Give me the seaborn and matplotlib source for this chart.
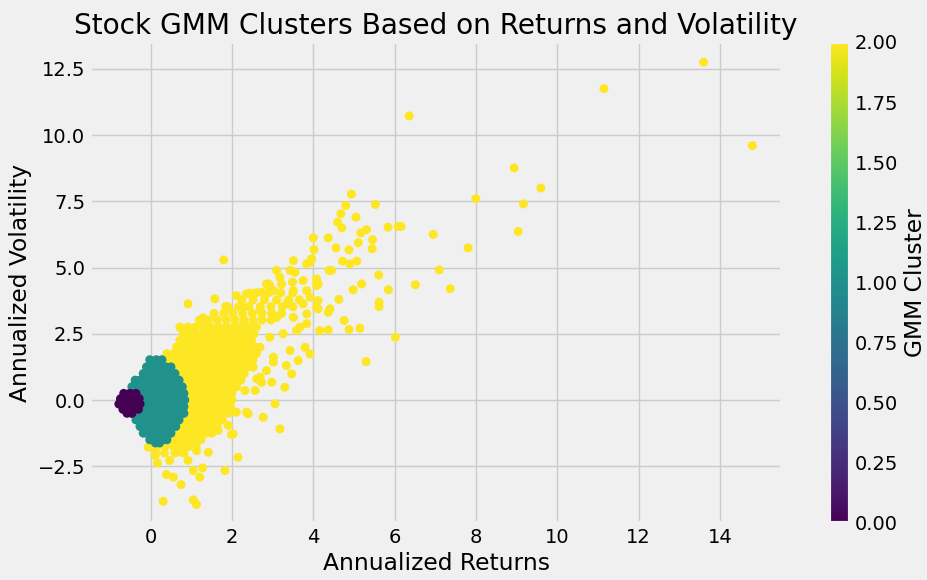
import numpy as np
import pandas as pd
import matplotlib
matplotlib.use('Agg')
import matplotlib.pyplot as plt
import seaborn as sns

# значения: ряды (y, [x...]) для плотных облаков
cluster0_rows = [
    (0.25, [-0.66, -0.5, -0.36]),
    (0.05, [-0.74, -0.58, -0.42, -0.28]),
    (-0.15, [-0.78, -0.66, -0.5, -0.34, -0.26]),
    (-0.35, [-0.68, -0.58, -0.42, -0.3]),
    (-0.5, [-0.58, -0.46]),
]

cluster1_rows = [
    (1.52, [-0.02, 0.14, 0.28]),
    (1.25, [-0.1, 0.06, 0.22, 0.38, 0.5]),
    (1.0, [-0.18, -0.02, 0.14, 0.3, 0.46, 0.6]),
    (0.75, [-0.38, -0.26, -0.1, 0.06, 0.22, 0.38, 0.54, 0.7]),
    (0.5, [-0.46, -0.34, -0.18, -0.02, 0.14, 0.3, 0.46, 0.62, 0.78]),
    (0.25, [-0.52, -0.42, -0.26, -0.1, 0.06, 0.22, 0.38, 0.54, 0.7, 0.82]),
    (0.0, [-0.52, -0.34, -0.18, -0.02, 0.14, 0.3, 0.46, 0.62, 0.78, 0.84]),
    (-0.25, [-0.52, -0.42, -0.26, -0.1, 0.06, 0.22, 0.38, 0.54, 0.7, 0.82]),
    (-0.5, [-0.46, -0.34, -0.18, -0.02, 0.14, 0.3, 0.46, 0.62, 0.78, 0.82]),
    (-0.75, [-0.36, -0.26, -0.1, 0.06, 0.22, 0.38, 0.54, 0.7]),
    (-1.0, [-0.26, -0.18, -0.02, 0.14, 0.3, 0.46, 0.62]),
    (-1.25, [-0.18, -0.1, 0.06, 0.22, 0.38, 0.5]),
    (-1.5, [-0.02, 0.14, 0.3, 0.4]),
    (-1.62, [0.12, 0.22]),
]

cluster2_rows = [
    (4.05, [2.6, 2.9, 3.2, 3.5]),
    (3.78, [2.24, 2.52, 2.8, 3.1, 3.4, 3.66]),
    (3.52, [1.9, 2.16, 2.42, 2.7, 2.96, 3.24, 3.5]),
    (3.27, [1.56, 1.8, 2.02, 2.26, 2.5, 2.74, 2.98, 3.22]),
    (3.02, [1.2, 1.42, 1.64, 1.86, 2.08, 2.3, 2.52, 2.74, 2.96]),
    (2.75, [0.92, 1.1, 1.3, 1.48, 1.66, 1.86, 2.04, 2.22, 2.4, 2.6]),
    (2.5, [0.8, 0.96, 1.12, 1.28, 1.44, 1.6, 1.76, 1.92, 2.08, 2.24, 2.4, 2.54]),
    (2.25, [0.72, 0.88, 1.04, 1.2, 1.36, 1.52, 1.68, 1.84, 2.0, 2.16, 2.32, 2.48]),
    (2.0, [0.64, 0.8, 0.96, 1.12, 1.28, 1.44, 1.6, 1.76, 1.92, 2.08, 2.24, 2.4, 2.56]),
    (1.75, [0.4, 0.56, 0.72, 0.88, 1.04, 1.2, 1.36, 1.52, 1.68, 1.84, 2.0, 2.16, 2.32, 2.48, 2.6]),
    (1.5, [0.48, 0.64, 0.8, 0.96, 1.12, 1.28, 1.44, 1.6, 1.76, 1.92, 2.08, 2.24, 2.4, 2.52]),
    (1.25, [0.56, 0.72, 0.88, 1.04, 1.2, 1.36, 1.52, 1.68, 1.84, 2.0, 2.16, 2.32, 2.4]),
    (1.0, [0.64, 0.8, 0.96, 1.12, 1.28, 1.44, 1.6, 1.76, 1.92, 2.08, 2.24, 2.3]),
    (0.75, [0.72, 0.88, 1.04, 1.2, 1.36, 1.52, 1.68, 1.84, 2.0, 2.16, 2.22]),
    (0.5, [0.8, 0.96, 1.12, 1.28, 1.44, 1.6, 1.76, 1.92, 2.08, 2.12]),
    (0.25, [0.88, 1.04, 1.2, 1.36, 1.52, 1.68, 1.84, 2.0]),
    (0.0, [0.8, 0.96, 1.12, 1.28, 1.44, 1.6, 1.76, 1.92, 2.0]),
    (-0.25, [0.88, 1.04, 1.2, 1.36, 1.52, 1.68, 1.84, 1.96]),
    (-0.5, [0.8, 0.96, 1.12, 1.28, 1.44, 1.6, 1.76, 1.92]),
    (-0.75, [0.72, 0.88, 1.04, 1.2, 1.36, 1.52, 1.68, 1.76]),
    (-1.0, [0.64, 0.8, 0.96, 1.12, 1.28, 1.44, 1.6, 1.64]),
    (-1.25, [0.56, 0.72, 0.88, 1.04, 1.2, 1.36, 1.5]),
    (-1.5, [0.32, 0.48, 0.64, 0.8, 0.96, 1.12, 1.24]),
    (-1.75, [-0.02, 0.16, 0.36, 0.56, 0.74, 0.94, 1.12]),
    (-2.0, [0.12, 0.34, 0.6, 0.82]),
]

# отдельные точки кластера 2 (x, y)
cluster2_points = [
    (13.6, 12.75), (11.15, 11.75), (14.8, 9.6), (6.36, 10.72),
    (8.94, 8.76), (9.6, 8.0), (8.0, 7.6), (9.17, 7.4), (9.04, 6.36), (6.95, 6.25),
    (7.81, 5.74), (7.1, 4.91), (6.51, 4.35), (7.37, 4.2), (6.02, 2.37), (5.3, 1.45),
    (4.94, 7.77), (4.8, 7.34), (5.53, 7.38), (4.68, 7.03), (5.05, 6.9), (4.6, 6.71),
    (4.7, 6.5), (5.17, 6.31), (5.31, 6.43), (5.84, 6.52), (6.09, 6.55), (6.16, 6.55),
    (4.0, 6.12), (4.37, 6.12), (5.46, 6.05), (4.02, 5.68), (4.56, 5.74), (4.88, 5.67),
    (5.11, 5.94), (5.45, 5.71), (3.92, 5.2), (3.96, 5.33), (4.72, 5.24), (4.9, 5.14),
    (5.07, 5.24), (4.39, 4.89), (4.45, 4.89), (5.61, 4.72), (3.75, 4.51), (4.08, 4.57),
    (4.12, 4.38), (5.19, 4.38), (4.98, 4.16), (5.85, 4.16), (3.84, 4.13), (3.92, 3.88),
    (4.63, 3.8), (5.62, 3.69), (5.62, 3.53), (4.08, 3.5), (4.37, 3.31), (4.76, 3.0),
    (4.16, 2.62), (4.37, 2.65), (4.88, 2.66), (5.15, 2.71), (3.8, 1.99), (3.92, 1.74),
    (1.8, 5.29), (0.92, 3.63), (1.58, 3.82), (1.85, 3.53), (2.11, 3.94), (0.72, 2.75),
    (0.87, 2.69), (1.29, 3.1), (0.84, 2.27), (2.36, 4.01), (2.52, 4.01), (2.73, 4.07),
    (2.89, 4.38), (3.1, 4.89), (3.51, 5.26), (3.84, 5.14), (3.18, 4.63), (3.43, 4.89),
    (3.55, 4.82), (2.85, 4.38), (2.93, 4.2), (3.49, 4.45), (3.02, 4.13), (2.44, 4.03),
    (3.22, 4.38), (2.93, 4.32), (3.51, 4.13), (4.08, 4.32), (4.12, 3.75), (3.75, 3.63),
    (3.34, 3.63), (3.51, 3.12), (3.84, 3.25), (3.1, 3.12), (2.69, 3.38), (2.28, 3.5),
    (3.26, 2.5), (3.59, 2.62), (2.93, 2.37), (2.69, 1.99), (3.02, 1.62), (2.85, 1.11),
    (2.52, 1.24), (2.61, 0.8), (2.32, 0.36), (4.12, 3.44), (4.41, 3.44), (3.67, 2.75),
    (3.84, 2.88), (3.43, 1.87), (3.63, 1.49), (3.47, 0.99), (3.3, 0.48), (3.02, 1.43),
    (2.98, 0.67), (2.77, -0.65), (3.18, -1.09), (2.36, -0.46), (2.57, 0.36), (3.06, -0.14),
    (3.34, 1.3), (2.73, 0.67), (2.4, -0.52), (1.91, -0.96), (1.99, -1.3), (2.15, -2.16),
    (1.83, -2.66), (1.42, -1.97), (2.69, 0.86), (2.03, -1.28), (2.11, -0.46), (1.66, -1.15),
    (0.31, -3.82), (1.05, -3.77), (1.13, -3.94), (0.75, -3.19), (1.21, -2.91), (0.39, -2.81),
    (0.56, -2.91), (0.17, -2.38), (1.28, -2.56), (0.92, -2.28), (1.05, -2.66), (0.76, -1.97),
    (0.47, -2.28), (-0.06, -1.78), (0.11, -2.09), (1.13, -1.91),
]


def rows_to_df(rows, cluster):
    xs, ys = [], []
    for y, row_x in rows:
        xs += row_x
        ys += [y] * len(row_x)
    return pd.DataFrame({'Returns': xs, 'Volatility': ys, 'Cluster': cluster})


# порядок: жёлтые снизу, затем бирюзовые, фиолетовые сверху
df = pd.concat([
    rows_to_df(cluster2_rows, 2),
    pd.DataFrame({'Returns': [p[0] for p in cluster2_points],
                  'Volatility': [p[1] for p in cluster2_points], 'Cluster': 2}),
    rows_to_df(cluster1_rows, 1),
    rows_to_df(cluster0_rows, 0),
], ignore_index=True)

plt.style.use('fivethirtyeight')
cmap = plt.get_cmap('viridis')
norm = matplotlib.colors.Normalize(vmin=0, vmax=2)
palette = {c: cmap(norm(c)) for c in [0, 1, 2]}

fig = plt.figure(figsize=(9.28, 5.8), dpi=100)
ax = fig.add_axes([0.097, 0.0983, 0.7457, 0.8293])
sns.scatterplot(data=df, x='Returns', y='Volatility', hue='Cluster', palette=palette,
                s=42, linewidth=0, edgecolor='none', alpha=1, legend=False, ax=ax)

ax.set_xlim(-1.49, 15.53)
ax.set_ylim(-4.64, 13.51)
ax.set_xticks([0, 2, 4, 6, 8, 10, 12, 14])
ax.set_yticks([-2.5, 0.0, 2.5, 5.0, 7.5, 10.0, 12.5])
ax.set_title('Stock GMM Clusters Based on Returns and Volatility')
ax.set_xlabel('Annualized Returns')
ax.set_ylabel('Annualized Volatility')

cax = fig.add_axes([0.8933, 0.0983, 0.0226, 0.8293])
sm = matplotlib.cm.ScalarMappable(norm=norm, cmap=cmap)
cb = fig.colorbar(sm, cax=cax)
cb.set_label('GMM Cluster')

fig.savefig('out.png', dpi=100)
